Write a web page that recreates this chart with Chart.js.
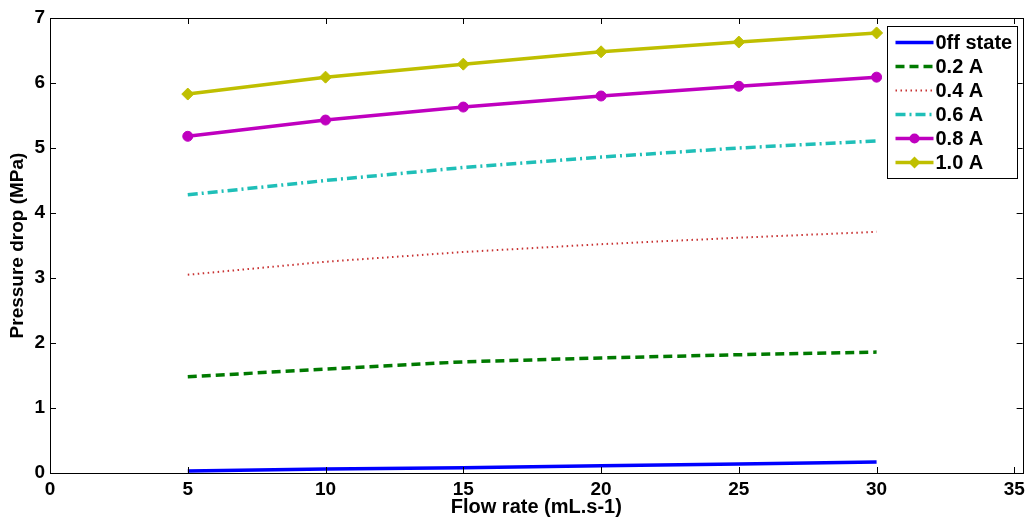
<!DOCTYPE html>
<html>
<head>
<meta charset="utf-8">
<title>Pressure drop vs flow rate</title>
<script src="https://cdn.jsdelivr.net/npm/chart.js@4.4.0/dist/chart.umd.min.js"></script>
<style>
  html, body { margin: 0; padding: 0; background: #fff; }
  #wrap { width: 1030px; height: 519px; }
</style>
</head>
<body>
<div id="wrap"><canvas id="chart" width="1030" height="519"></canvas></div>
<script>
// Data
const flowRates = [5, 10, 15, 20, 25, 30];
const seriesNames = ['0ff state', '0.2 A', '0.4 A', '0.6 A', '0.8 A', '1.0 A'];
const offState = [0.03, 0.06, 0.08, 0.11, 0.14, 0.17];
const amp02 = [1.48, 1.60, 1.71, 1.77, 1.82, 1.86];
const amp04 = [3.05, 3.25, 3.40, 3.52, 3.62, 3.71];
const amp06 = [4.28, 4.50, 4.70, 4.86, 5.00, 5.11];
const amp08 = [5.18, 5.43, 5.63, 5.80, 5.95, 6.09];
const amp10 = [5.83, 6.09, 6.29, 6.48, 6.63, 6.77];
const xTicks = [0, 5, 10, 15, 20, 25, 30, 35];
const yTicks = [0, 1, 2, 3, 4, 5, 6, 7];

const FONT = '"Liberation Sans", Arial, sans-serif';

function points(vals) {
    return flowRates.map((x, i) => ({ x: x, y: vals[i] }));
}

// Line styles (MATLAB-like)
const styles = [
    { color: '#0000ff', width: 3.5, dash: [], marker: false },
    { color: '#007a00', width: 3.5, dash: [9, 5], marker: false },
    { color: '#c83232', width: 2, dash: [1.5, 3.5], marker: false },
    { color: '#1fbfb8', width: 3.5, dash: [10, 4, 2, 4], marker: false },
    { color: '#bf00bf', width: 3.5, dash: [], marker: 'circle' },
    { color: '#bfbf00', width: 3.5, dash: [], marker: 'rectRot' }
];
const seriesData = [offState, amp02, amp04, amp06, amp08, amp10];

const datasets = seriesData.map((vals, i) => ({
    label: seriesNames[i],
    data: points(vals),
    borderColor: styles[i].color,
    backgroundColor: styles[i].color,
    borderWidth: styles[i].width,
    borderDash: styles[i].dash,
    pointStyle: styles[i].marker || 'circle',
    pointRadius: styles[i].marker ? (styles[i].marker === 'rectRot' ? 6 : 5) : 0,
    pointBorderWidth: 1,
    tension: 0,
    fill: false
}));

// Box + inward ticks on all four sides, like MATLAB axes
const boxTicks = {
    id: 'boxTicks',
    afterDatasetsDraw(chart) {
        const { ctx, chartArea: a, scales } = chart;
        const len = 6;
        ctx.save();
        ctx.strokeStyle = '#000';
        ctx.lineWidth = 1;
        ctx.beginPath();
        scales.x.ticks.forEach(t => {
            const px = Math.round(scales.x.getPixelForValue(t.value)) + 0.5;
            ctx.moveTo(px, a.bottom); ctx.lineTo(px, a.bottom - len);
            ctx.moveTo(px, a.top); ctx.lineTo(px, a.top + len);
        });
        scales.y.ticks.forEach(t => {
            const py = Math.round(scales.y.getPixelForValue(t.value)) + 0.5;
            ctx.moveTo(a.left, py); ctx.lineTo(a.left + len, py);
            ctx.moveTo(a.right, py); ctx.lineTo(a.right - len, py);
        });
        ctx.stroke();
        ctx.strokeRect(Math.round(a.left) + 0.5, Math.round(a.top) + 0.5,
            Math.round(a.right - a.left), Math.round(a.bottom - a.top));
        ctx.restore();
    }
};

// Legend box inside the top right corner
const insideLegend = {
    id: 'insideLegend',
    afterDraw(chart) {
        const { ctx, chartArea: a } = chart;
        const w = 130, rowH = 24, h = rowH * datasets.length + 8;
        const x0 = Math.round(a.right - w - 6) + 0.5;
        const y0 = Math.round(a.top + 8) + 0.5;
        ctx.save();
        ctx.fillStyle = '#fff';
        ctx.fillRect(x0, y0, w, h);
        ctx.strokeStyle = '#000';
        ctx.lineWidth = 1;
        ctx.strokeRect(x0, y0, w, h);
        ctx.font = 'bold 20px ' + FONT;
        ctx.textBaseline = 'middle';
        datasets.forEach((ds, i) => {
            const st = styles[i];
            const cy = y0 + 16 + i * rowH;
            const lx0 = x0 + 8, lx1 = x0 + 46;
            ctx.strokeStyle = st.color;
            ctx.lineWidth = st.width;
            ctx.setLineDash(st.dash);
            ctx.beginPath();
            ctx.moveTo(lx0, cy); ctx.lineTo(lx1, cy);
            ctx.stroke();
            ctx.setLineDash([]);
            if (st.marker) {
                ctx.fillStyle = st.color;
                const mx = (lx0 + lx1) / 2;
                ctx.beginPath();
                if (st.marker === 'circle') {
                    ctx.arc(mx, cy, 5, 0, Math.PI * 2);
                } else {
                    ctx.moveTo(mx, cy - 6); ctx.lineTo(mx + 6, cy);
                    ctx.lineTo(mx, cy + 6); ctx.lineTo(mx - 6, cy);
                    ctx.closePath();
                }
                ctx.fill();
            }
            ctx.fillStyle = '#000';
            ctx.fillText(ds.label, lx1 + 2, cy + 1);
        });
        ctx.restore();
    }
};

const ctx = document.getElementById('chart').getContext('2d');
new Chart(ctx, {
    type: 'line',
    data: { datasets: datasets },
    plugins: [boxTicks, insideLegend],
    options: {
        responsive: false,
        animation: false,
        layout: { padding: { top: 18, right: 6, left: 0, bottom: 0 } },
        plugins: {
            legend: { display: false },
            tooltip: { enabled: false }
        },
        scales: {
            x: {
                type: 'linear',
                min: 0,
                max: 35.3,
                afterBuildTicks(scale) {
                    scale.ticks = xTicks.map(v => ({ value: v }));
                },
                afterFit(scale) { scale.height = 46; },
                grid: { display: false, drawTicks: false },
                border: { display: false },
                ticks: {
                    color: '#000',
                    padding: 5,
                    font: { family: FONT, size: 19, weight: 'bold' }
                },
                title: {
                    display: true,
                    text: 'Flow rate (mL.s-1)',
                    color: '#000',
                    padding: { top: 0, bottom: 0 },
                    font: { family: FONT, size: 20, weight: 'bold' }
                }
            },
            y: {
                type: 'linear',
                min: 0,
                max: 7,
                afterBuildTicks(scale) {
                    scale.ticks = yTicks.map(v => ({ value: v }));
                },
                afterFit(scale) { scale.width = 50; },
                grid: { display: false, drawTicks: false },
                border: { display: false },
                ticks: {
                    color: '#000',
                    padding: 5,
                    font: { family: FONT, size: 19, weight: 'bold' }
                },
                title: {
                    display: true,
                    text: 'Pressure drop (MPa)',
                    color: '#000',
                    padding: { top: 6, bottom: 0 },
                    font: { family: FONT, size: 19, weight: 'bold' }
                }
            }
        }
    }
});
</script>
</body>
</html>
